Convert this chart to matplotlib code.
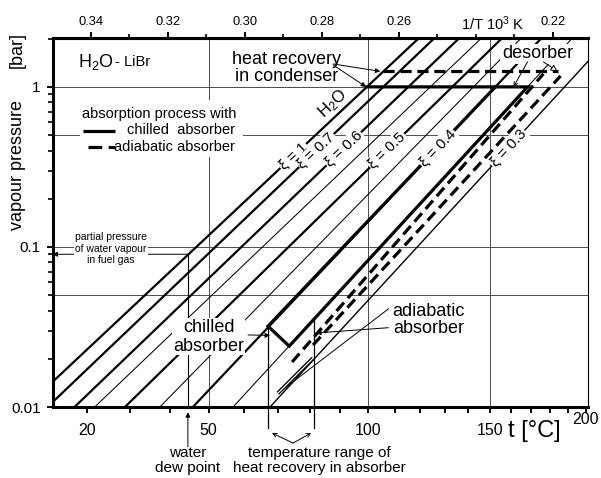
import numpy as np
import matplotlib
matplotlib.use("Agg")
import matplotlib.pyplot as plt
import matplotlib.transforms as mtransforms
from matplotlib.patches import Rectangle
from matplotlib.ticker import NullFormatter

plt.rcParams['font.family'] = ['Liberation Sans', 'DejaVu Sans']
plt.rcParams['mathtext.fontset'] = 'custom'
plt.rcParams['mathtext.rm'] = 'Liberation Sans'
plt.rcParams['mathtext.it'] = 'Liberation Sans:italic'
plt.rcParams['mathtext.bf'] = 'Liberation Sans:bold'

# Duehring lines of H2O-LiBr:
# temperature [C] where each line crosses 0.01 bar and 1 bar
xi = [1.0, 0.7, 0.6, 0.55, 0.5, 0.45, 0.4, 0.35, 0.3]
t_at_001 = [7.0, 11.5, 17.3, 21.8, 28.8, 37.3, 45.8, 56.8, 67.6]
t_at_1 = [99.6, 105.6, 115.2, 124.0, 133.2, 142.5, 152.6, 168.3, 187.9]
xi_labels = ['ξ = 1', 'ξ = 0.7', 'ξ = 0.6', '', 'ξ = 0.5', '', 'ξ = 0.4', '', 'ξ = 0.3']

# absorption process with chilled absorber (solid)
chilled_t = [99.6, 168.3, 73.5, 67.0, 152.6]
chilled_p = [1.0, 1.0, 0.024, 0.032, 1.0]
# absorption process with adiabatic absorber (dashed)
adiab_cond_t = [105.5, 184.1]
adiab_cond_p = [1.25, 1.25]
adiab_rich_t = [74.4, 176.5]
adiab_rich_p = [0.0191, 1.206]
adiab_poor_t = [81.1, 185.7]
adiab_poor_p = [0.0244, 1.17]
adiab_abs_t = [70.0, 81.1]
adiab_abs_p = [0.0122, 0.0202]

# water vapour in the fuel gas and its dew point
p_fuel_gas = 0.09
t_dew = 44.5
# temperature range of heat recovery in the absorber
t_range = [67.0, 81.4]
p_range_top = [0.032, 0.035]

t_ticks = list(range(20, 201, 10))
t_ticklabels = ['20', '50', '100', '150']
inv_ticks = [0.34, 0.32, 0.30, 0.28, 0.26, 0.22]
inv_minor = [0.33, 0.31, 0.29, 0.27, 0.25, 0.24, 0.23]
p_ticks = [0.01, 0.1, 1]
p_ticklabels = ['0.01', '0.1', '1']
grid_t = [50, 100, 150]
grid_p = [0.05, 0.1, 0.5, 1]

# styles
xi_lw = [1.6, 1.6, 1.6, 0.75, 1.6, 0.75, 1.6, 0.75, 1.0]
label_p = [0.37, 0.40, 0.41, 0, 0.40, 0, 0.415, 0, 0.415]
P_MIN, P_MAX = 0.01, 2.02


def inv_t(t):
    return 1000.0 / (np.asarray(t, dtype=float) + 273.15)


def xi_x(i, p):
    x0, x1 = inv_t(t_at_001[i]), inv_t(t_at_1[i])
    return x0 + (x1 - x0) * (np.log10(p) + 2.0) / 2.0


def p_frac(p):
    return (np.log10(p) - np.log10(P_MIN)) / (np.log10(P_MAX) - np.log10(P_MIN))


fig = plt.figure(figsize=(6.01, 4.78), dpi=100)
ax = fig.add_axes([0.0874, 0.1485, 0.891, 0.772])
ax.set_yscale('log')
ax.set_xlim(3.5, 2.108)
ax.set_ylim(P_MIN, P_MAX)
trans = mtransforms.blended_transform_factory(ax.transData, ax.transAxes)

# axes, ticks
ax.set_xticks(inv_t(t_ticks))
ax.set_xticklabels([str(t) if str(t) in t_ticklabels else '' for t in t_ticks])
ax.set_yticks(p_ticks)
ax.set_yticklabels(p_ticklabels)
minor_p = [k * 10.0 ** e for e in (-2, -1, 0) for k in range(2, 10) if k * 10.0 ** e <= P_MAX]
ax.set_yticks(minor_p, minor=True)
ax.yaxis.set_minor_formatter(NullFormatter())
ax.tick_params(axis='x', which='major', direction='out', length=4.5, width=1.4,
               pad=7, labelsize=11.5)
ax.tick_params(axis='y', which='major', direction='out', length=4.5, width=1.4,
               pad=4, labelsize=11)
ax.tick_params(axis='y', which='minor', direction='out', length=3.5, width=1.2)
for s in ['left', 'bottom', 'top']:
    ax.spines[s].set_linewidth(2.2)
ax.spines['right'].set_linewidth(0.8)

secax = ax.secondary_xaxis('top')
secax.set_xticks([v * 10 for v in inv_ticks])
secax.set_xticklabels(['%.2f' % v for v in inv_ticks])
secax.set_xticks([v * 10 for v in inv_minor], minor=True)
secax.tick_params(which='major', direction='out', length=4.5, width=1.4, pad=2.5,
                  labelsize=9.3)
secax.tick_params(which='minor', direction='out', length=3, width=1.2)
secax.spines['top'].set_linewidth(2.2)

# grid
for t in grid_t:
    ax.axvline(inv_t(t), color='0.3', lw=0.7, zorder=1)
for p in grid_p:
    ax.axhline(p, color='0.3', lw=0.7, zorder=1)

# Duehring lines
p_span = np.array([0.004, 3.0])
for i in range(len(xi)):
    ax.plot(xi_x(i, p_span), p_span, color='k', lw=xi_lw[i],
            solid_capstyle='butt', zorder=2)

white = dict(boxstyle='square,pad=0.08', fc='white', ec='none')
for i, txt in enumerate(xi_labels):
    if not txt:
        continue
    d = ax.transData.transform([[xi_x(i, 0.1), 0.1], [xi_x(i, 1.0), 1.0]])
    ang = np.degrees(np.arctan2(d[1, 1] - d[0, 1], d[1, 0] - d[0, 0]))
    ax.text(xi_x(i, label_p[i]), label_p[i], txt, rotation=ang, rotation_mode='anchor',
            ha='center', va='center', fontsize=11, bbox=white, zorder=4)

d = ax.transData.transform([[xi_x(0, 0.1), 0.1], [xi_x(0, 1.0), 1.0]])
ang_w = np.degrees(np.arctan2(d[1, 1] - d[0, 1], d[1, 0] - d[0, 0]))
ax.text(inv_t(87.8), 0.78, 'H$_2$O', rotation=ang_w, rotation_mode='anchor',
        ha='center', va='center', fontsize=12, zorder=4)

# process lines
ax.plot(inv_t(chilled_t), chilled_p, color='k', lw=2.3, zorder=3,
        solid_joinstyle='miter')
dash = (0, (3.5, 1.8))
for tt, pp in [(adiab_cond_t, adiab_cond_p), (adiab_rich_t, adiab_rich_p),
               (adiab_poor_t, adiab_poor_p)]:
    ax.plot(inv_t(tt), pp, color='k', lw=2.3, ls=dash, zorder=3)
ax.plot(inv_t(adiab_abs_t), adiab_abs_p, color='k', lw=2.8, zorder=3,
        solid_capstyle='butt')
ax.plot(inv_t(adiab_abs_t), adiab_abs_p, color='white', lw=0.9, zorder=3.1,
        solid_capstyle='butt')

# fuel gas partial pressure and dew point
arrow = dict(arrowstyle='-|>', color='k', lw=0.7, mutation_scale=7,
             shrinkA=0, shrinkB=0)
ax.annotate('', xy=(ax.get_xlim()[0], p_fuel_gas), xytext=(inv_t(t_dew), p_fuel_gas),
            arrowprops=arrow, zorder=3)
ax.plot([inv_t(t_dew)] * 2, [p_fuel_gas, P_MIN], color='k', lw=0.8, zorder=2)
ax.annotate('', xy=(inv_t(t_dew), -0.014), xytext=(inv_t(t_dew), -0.108),
            xycoords=trans, textcoords=trans, arrowprops=arrow,
            annotation_clip=False)
ax.text(inv_t(t_dew), -0.146, 'water\ndew point', transform=trans, ha='center',
        va='center', fontsize=11, linespacing=1.1)
ax.text(inv_t(25.5), 0.0973, 'partial pressure\nof water vapour\nin fuel gas',
        ha='center', va='center', fontsize=7.5, linespacing=1.2, bbox=white, zorder=4)

# temperature range of heat recovery in absorber
for t, p in zip(t_range, p_range_top):
    ax.plot([inv_t(t)] * 2, [p_frac(p), -0.057], transform=trans, color='k', lw=0.9,
            clip_on=False, zorder=3)
arrow2 = dict(arrowstyle='->', color='k', lw=0.7, mutation_scale=7,
              shrinkA=0, shrinkB=0)
for t_tip in [68.2, 80.5]:
    ax.annotate('', xy=(inv_t(t_tip), -0.0705), xytext=(inv_t(74.7), -0.0976),
                xycoords=trans, textcoords=trans, arrowprops=arrow2,
                annotation_clip=False)
ax.text(inv_t(83.1), -0.146, 'temperature range of\nheat recovery in absorber',
        transform=trans, ha='center', va='center', fontsize=11, linespacing=1.1)

# process labels
ax.text(inv_t(72.8), 1.315, 'heat recovery\nin condenser', ha='center', va='center',
        fontsize=13, linespacing=1.0, bbox=white, zorder=4)
ax.annotate('', xy=(inv_t(104.5), 1.25), xytext=(inv_t(87.8), 1.39),
            arrowprops=arrow, zorder=4)
ax.annotate('', xy=(inv_t(99.3), 1.0), xytext=(inv_t(87.8), 1.37),
            arrowprops=arrow, zorder=4)

ax.text(inv_t(50.1), 0.0274, 'chilled\nabsorber', ha='center', va='center',
        fontsize=13, linespacing=1.1, bbox=dict(boxstyle='square,pad=0.05', fc='white',
                                                 ec='none'), zorder=4)
ax.annotate('', xy=(inv_t(67.6), 0.028), xytext=(inv_t(61.1), 0.0282),
            arrowprops=arrow, zorder=4)

ax.text(inv_t(123.2), 0.0349, 'adiabatic\nabsorber', ha='center', va='center',
        fontsize=13, linespacing=1.0, zorder=4)
ax.plot(inv_t([107.5, 70.3]), [0.041, 0.0123], color='k', lw=0.7, zorder=3)
ax.annotate('', xy=(inv_t(82.1), 0.029), xytext=(inv_t(107.5), 0.0313),
            arrowprops=arrow, zorder=4)

ax.text(inv_t(173.4), 1.607, 'desorber', ha='center', va='center', fontsize=13,
        bbox=white, zorder=4)
ax.annotate('', xy=(inv_t(184.1), 1.25), xytext=(inv_t(176.5), 1.433),
            arrowprops=dict(arrowstyle='-|>', color='k', fc='white', lw=0.7,
                            mutation_scale=10, shrinkA=0, shrinkB=0), zorder=4)
ax.annotate('', xy=(inv_t(161.3), 1.0), xytext=(inv_t(168.3), 1.433),
            arrowprops=arrow2, zorder=4)

# header and legend
ax.text(inv_t(18.0), 1.43, 'H$_2$O', ha='left', va='center', fontsize=13)
ax.text(inv_t(26.4), 1.43, '- LiBr', ha='left', va='center', fontsize=10.5)
ax.add_patch(Rectangle((0.0514, 0.6775), 0.3043, 0.1545, transform=ax.transAxes,
                       fc='white', ec='none', zorder=3.5))
ax.text(0.1989, 0.794, 'absorption process with', transform=ax.transAxes,
        ha='center', va='center', fontsize=10.5, zorder=4)
ax.text(0.3408, 0.7507, 'chilled  absorber', transform=ax.transAxes,
        ha='right', va='center', fontsize=10.5, zorder=4)
ax.text(0.3408, 0.7046, 'adiabatic absorber', transform=ax.transAxes,
        ha='right', va='center', fontsize=10.5, zorder=4)
ax.plot([0.057, 0.1167], [0.748, 0.748], transform=ax.transAxes, color='k', lw=2.3,
        solid_capstyle='butt', zorder=4)
ax.plot([0.0654, 0.1167], [0.7046, 0.7046], transform=ax.transAxes, color='k', lw=2.3,
        ls=(0, (4.3, 2.0)), zorder=4)

# axis titles
ax.text(-0.0663, 0.967, '[bar]', transform=ax.transAxes, rotation=90,
        ha='center', va='center', fontsize=13)
ax.text(-0.0663, 0.656, 'vapour pressure', transform=ax.transAxes, rotation=90,
        ha='center', va='center', fontsize=13)
ax.text(inv_t(171.9), -0.065, 't [°C]', transform=trans, ha='center', va='center',
        fontsize=17)
ax.text(inv_t(200), -0.035, '200', transform=trans, ha='center', va='center',
        fontsize=11.5)
ax.text(2.3565, 1.038, '1/T 10$^3$ K', transform=trans, ha='center', va='center',
        fontsize=10.5)

fig.savefig('out.png', dpi=100)
